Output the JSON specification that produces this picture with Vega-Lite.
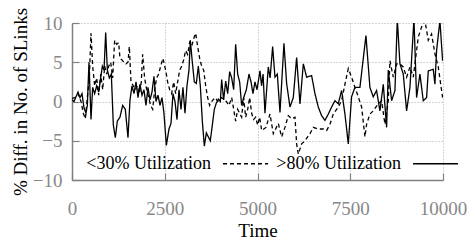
{
 "$schema": "https://vega.github.io/schema/vega-lite/v6.json",
 "width": 371, "height": 157,
 "autosize": "none",
 "padding": {"left": 72, "top": 23, "right": 28, "bottom": 64},
 "background": "white",
 "config": {
  "font": "Liberation Serif",
  "view": {"stroke": null},
  "axis": {"labelFont": "Liberation Serif", "labelFontSize": 19, "labelColor": "#888888", "titleFont": "Liberation Serif", "titleFontSize": 19, "titleFontWeight": "normal", "titleColor": "black", "domainColor": "#808080", "domainWidth": 1.5, "tickColor": "#808080", "tickWidth": 1.2, "tickSize": -7, "gridColor": "#aaaaaa", "gridDash": [1, 2], "gridOpacity": 1, "gridWidth": 1}
 },
 "datasets": {
  "pts": [
   {"t":0,"v":0.4,"s":"<30% Utilization"},{"t":81,"v":0.5,"s":"<30% Utilization"},{"t":162,"v":1.0,"s":"<30% Utilization"},{"t":243,"v":0.0,"s":"<30% Utilization"},{"t":305,"v":-1.5,"s":"<30% Utilization"},{"t":359,"v":-2.2,"s":"<30% Utilization"},{"t":413,"v":0.5,"s":"<30% Utilization"},{"t":467,"v":3.0,"s":"<30% Utilization"},{"t":512,"v":8.7,"s":"<30% Utilization"},{"t":557,"v":4.5,"s":"<30% Utilization"},{"t":611,"v":2.0,"s":"<30% Utilization"},{"t":665,"v":3.0,"s":"<30% Utilization"},{"t":719,"v":0.8,"s":"<30% Utilization"},{"t":773,"v":3.5,"s":"<30% Utilization"},{"t":827,"v":1.5,"s":"<30% Utilization"},{"t":881,"v":4.5,"s":"<30% Utilization"},{"t":935,"v":3.5,"s":"<30% Utilization"},{"t":989,"v":4.5,"s":"<30% Utilization"},{"t":1042,"v":5.0,"s":"<30% Utilization"},{"t":1096,"v":3.0,"s":"<30% Utilization"},{"t":1150,"v":7.8,"s":"<30% Utilization"},{"t":1204,"v":7.3,"s":"<30% Utilization"},{"t":1258,"v":7.5,"s":"<30% Utilization"},{"t":1293,"v":5.5,"s":"<30% Utilization"},{"t":1347,"v":5.3,"s":"<30% Utilization"},{"t":1401,"v":5.0,"s":"<30% Utilization"},{"t":1455,"v":4.8,"s":"<30% Utilization"},{"t":1509,"v":5.0,"s":"<30% Utilization"},{"t":1545,"v":7.0,"s":"<30% Utilization"},{"t":1590,"v":2.5,"s":"<30% Utilization"},{"t":1653,"v":2.0,"s":"<30% Utilization"},{"t":1707,"v":1.5,"s":"<30% Utilization"},{"t":1761,"v":2.0,"s":"<30% Utilization"},{"t":1815,"v":1.0,"s":"<30% Utilization"},{"t":1868,"v":2.5,"s":"<30% Utilization"},{"t":1904,"v":6.0,"s":"<30% Utilization"},{"t":1958,"v":3.0,"s":"<30% Utilization"},{"t":2012,"v":1.5,"s":"<30% Utilization"},{"t":2066,"v":0.5,"s":"<30% Utilization"},{"t":2120,"v":-0.5,"s":"<30% Utilization"},{"t":2174,"v":-1.0,"s":"<30% Utilization"},{"t":2228,"v":1.5,"s":"<30% Utilization"},{"t":2282,"v":3.0,"s":"<30% Utilization"},{"t":2336,"v":3.5,"s":"<30% Utilization"},{"t":2390,"v":4.5,"s":"<30% Utilization"},{"t":2452,"v":5.5,"s":"<30% Utilization"},{"t":2524,"v":4.0,"s":"<30% Utilization"},{"t":2578,"v":2.5,"s":"<30% Utilization"},{"t":2632,"v":1.5,"s":"<30% Utilization"},{"t":2686,"v":1.0,"s":"<30% Utilization"},{"t":2740,"v":2.5,"s":"<30% Utilization"},{"t":2794,"v":1.0,"s":"<30% Utilization"},{"t":2848,"v":2.5,"s":"<30% Utilization"},{"t":2902,"v":4.0,"s":"<30% Utilization"},{"t":2956,"v":4.5,"s":"<30% Utilization"},{"t":3010,"v":5.3,"s":"<30% Utilization"},{"t":3063,"v":6.5,"s":"<30% Utilization"},{"t":3117,"v":6.0,"s":"<30% Utilization"},{"t":3171,"v":7.5,"s":"<30% Utilization"},{"t":3225,"v":7.0,"s":"<30% Utilization"},{"t":3279,"v":8.0,"s":"<30% Utilization"},{"t":3333,"v":8.7,"s":"<30% Utilization"},{"t":3387,"v":7.0,"s":"<30% Utilization"},{"t":3441,"v":5.5,"s":"<30% Utilization"},{"t":3495,"v":4.5,"s":"<30% Utilization"},{"t":3549,"v":4.0,"s":"<30% Utilization"},{"t":3603,"v":2.0,"s":"<30% Utilization"},{"t":3657,"v":0.5,"s":"<30% Utilization"},{"t":3710,"v":-0.5,"s":"<30% Utilization"},{"t":3764,"v":0.0,"s":"<30% Utilization"},{"t":3818,"v":0.3,"s":"<30% Utilization"},{"t":3872,"v":0.5,"s":"<30% Utilization"},{"t":3926,"v":0.0,"s":"<30% Utilization"},{"t":3980,"v":0.2,"s":"<30% Utilization"},{"t":4034,"v":0.5,"s":"<30% Utilization"},{"t":4088,"v":0.3,"s":"<30% Utilization"},{"t":4160,"v":0.0,"s":"<30% Utilization"},{"t":4232,"v":-0.5,"s":"<30% Utilization"},{"t":4304,"v":0.5,"s":"<30% Utilization"},{"t":4358,"v":-1.0,"s":"<30% Utilization"},{"t":4411,"v":-2.5,"s":"<30% Utilization"},{"t":4465,"v":-1.0,"s":"<30% Utilization"},{"t":4519,"v":-1.5,"s":"<30% Utilization"},{"t":4573,"v":-2.0,"s":"<30% Utilization"},{"t":4627,"v":0.5,"s":"<30% Utilization"},{"t":4681,"v":-2.0,"s":"<30% Utilization"},{"t":4735,"v":-1.0,"s":"<30% Utilization"},{"t":4789,"v":0.5,"s":"<30% Utilization"},{"t":4842,"v":-1.5,"s":"<30% Utilization"},{"t":4896,"v":-2.3,"s":"<30% Utilization"},{"t":4950,"v":-2.0,"s":"<30% Utilization"},{"t":5004,"v":-3.0,"s":"<30% Utilization"},{"t":5058,"v":-2.0,"s":"<30% Utilization"},{"t":5112,"v":-3.7,"s":"<30% Utilization"},{"t":5228,"v":-3.3,"s":"<30% Utilization"},{"t":5336,"v":-1.6,"s":"<30% Utilization"},{"t":5426,"v":-4.1,"s":"<30% Utilization"},{"t":5561,"v":-2.8,"s":"<30% Utilization"},{"t":5650,"v":-4.5,"s":"<30% Utilization"},{"t":5740,"v":-3.3,"s":"<30% Utilization"},{"t":5830,"v":-1.8,"s":"<30% Utilization"},{"t":5920,"v":-2.2,"s":"<30% Utilization"},{"t":6010,"v":-2.0,"s":"<30% Utilization"},{"t":6055,"v":-5.4,"s":"<30% Utilization"},{"t":6100,"v":-6.7,"s":"<30% Utilization"},{"t":6190,"v":-5.4,"s":"<30% Utilization"},{"t":6279,"v":-5.0,"s":"<30% Utilization"},{"t":6414,"v":-4.1,"s":"<30% Utilization"},{"t":6504,"v":-3.3,"s":"<30% Utilization"},{"t":6639,"v":-3.5,"s":"<30% Utilization"},{"t":6773,"v":-3.5,"s":"<30% Utilization"},{"t":6863,"v":-3.7,"s":"<30% Utilization"},{"t":6953,"v":-2.9,"s":"<30% Utilization"},{"t":7042,"v":-1.6,"s":"<30% Utilization"},{"t":7177,"v":-0.7,"s":"<30% Utilization"},{"t":7267,"v":0.1,"s":"<30% Utilization"},{"t":7357,"v":2.2,"s":"<30% Utilization"},{"t":7447,"v":4.2,"s":"<30% Utilization"},{"t":7536,"v":3.1,"s":"<30% Utilization"},{"t":7626,"v":1.8,"s":"<30% Utilization"},{"t":7716,"v":0.6,"s":"<30% Utilization"},{"t":7806,"v":-0.7,"s":"<30% Utilization"},{"t":7896,"v":-4.5,"s":"<30% Utilization"},{"t":7941,"v":-2.9,"s":"<30% Utilization"},{"t":8030,"v":-1.6,"s":"<30% Utilization"},{"t":8120,"v":-1.2,"s":"<30% Utilization"},{"t":8255,"v":-0.3,"s":"<30% Utilization"},{"t":8345,"v":0.1,"s":"<30% Utilization"},{"t":8435,"v":-2.9,"s":"<30% Utilization"},{"t":8525,"v":0.1,"s":"<30% Utilization"},{"t":8570,"v":5.2,"s":"<30% Utilization"},{"t":8660,"v":3.1,"s":"<30% Utilization"},{"t":8750,"v":4.8,"s":"<30% Utilization"},{"t":8839,"v":4.8,"s":"<30% Utilization"},{"t":8929,"v":4.4,"s":"<30% Utilization"},{"t":9019,"v":3.1,"s":"<30% Utilization"},{"t":9109,"v":4.4,"s":"<30% Utilization"},{"t":9199,"v":3.1,"s":"<30% Utilization"},{"t":9333,"v":8.2,"s":"<30% Utilization"},{"t":9423,"v":9.5,"s":"<30% Utilization"},{"t":9513,"v":10.3,"s":"<30% Utilization"},{"t":9603,"v":7.8,"s":"<30% Utilization"},{"t":9692,"v":8.6,"s":"<30% Utilization"},{"t":9782,"v":6.1,"s":"<30% Utilization"},{"t":9872,"v":4.4,"s":"<30% Utilization"},{"t":9989,"v":0.5,"s":"<30% Utilization"},
   {"t":0,"v":0.2,"s":">80% Utilization"},{"t":54,"v":0.0,"s":">80% Utilization"},{"t":108,"v":0.6,"s":">80% Utilization"},{"t":162,"v":1.2,"s":">80% Utilization"},{"t":216,"v":0.5,"s":">80% Utilization"},{"t":270,"v":1.0,"s":">80% Utilization"},{"t":323,"v":-0.8,"s":">80% Utilization"},{"t":377,"v":-1.5,"s":">80% Utilization"},{"t":413,"v":-0.5,"s":">80% Utilization"},{"t":458,"v":5.0,"s":">80% Utilization"},{"t":512,"v":-2.3,"s":">80% Utilization"},{"t":557,"v":1.8,"s":">80% Utilization"},{"t":611,"v":1.0,"s":">80% Utilization"},{"t":665,"v":2.0,"s":">80% Utilization"},{"t":719,"v":1.2,"s":">80% Utilization"},{"t":773,"v":3.0,"s":">80% Utilization"},{"t":818,"v":4.5,"s":">80% Utilization"},{"t":863,"v":4.0,"s":">80% Utilization"},{"t":908,"v":8.8,"s":">80% Utilization"},{"t":953,"v":4.0,"s":">80% Utilization"},{"t":1006,"v":3.0,"s":">80% Utilization"},{"t":1060,"v":3.5,"s":">80% Utilization"},{"t":1114,"v":-3.0,"s":">80% Utilization"},{"t":1168,"v":-4.6,"s":">80% Utilization"},{"t":1222,"v":-2.5,"s":">80% Utilization"},{"t":1293,"v":-2.0,"s":">80% Utilization"},{"t":1365,"v":-0.5,"s":">80% Utilization"},{"t":1437,"v":-1.0,"s":">80% Utilization"},{"t":1509,"v":-4.6,"s":">80% Utilization"},{"t":1563,"v":0.2,"s":">80% Utilization"},{"t":1617,"v":2.0,"s":">80% Utilization"},{"t":1671,"v":1.0,"s":">80% Utilization"},{"t":1725,"v":2.5,"s":">80% Utilization"},{"t":1779,"v":0.5,"s":">80% Utilization"},{"t":1832,"v":2.2,"s":">80% Utilization"},{"t":1886,"v":0.8,"s":">80% Utilization"},{"t":1940,"v":1.5,"s":">80% Utilization"},{"t":1994,"v":-0.5,"s":">80% Utilization"},{"t":2048,"v":1.8,"s":">80% Utilization"},{"t":2102,"v":0.2,"s":">80% Utilization"},{"t":2156,"v":1.2,"s":">80% Utilization"},{"t":2210,"v":3.2,"s":">80% Utilization"},{"t":2264,"v":0.0,"s":">80% Utilization"},{"t":2318,"v":0.8,"s":">80% Utilization"},{"t":2372,"v":-0.5,"s":">80% Utilization"},{"t":2425,"v":0.5,"s":">80% Utilization"},{"t":2479,"v":-1.5,"s":">80% Utilization"},{"t":2543,"v":-5.6,"s":">80% Utilization"},{"t":2614,"v":-3.5,"s":">80% Utilization"},{"t":2668,"v":-2.8,"s":">80% Utilization"},{"t":2722,"v":1.0,"s":">80% Utilization"},{"t":2776,"v":0.0,"s":">80% Utilization"},{"t":2830,"v":-2.3,"s":">80% Utilization"},{"t":2884,"v":1.5,"s":">80% Utilization"},{"t":2938,"v":-1.0,"s":">80% Utilization"},{"t":2991,"v":1.8,"s":">80% Utilization"},{"t":3045,"v":-1.5,"s":">80% Utilization"},{"t":3099,"v":2.0,"s":">80% Utilization"},{"t":3153,"v":4.0,"s":">80% Utilization"},{"t":3189,"v":7.8,"s":">80% Utilization"},{"t":3243,"v":5.0,"s":">80% Utilization"},{"t":3297,"v":2.5,"s":">80% Utilization"},{"t":3351,"v":2.3,"s":">80% Utilization"},{"t":3405,"v":4.5,"s":">80% Utilization"},{"t":3459,"v":2.0,"s":">80% Utilization"},{"t":3513,"v":-2.5,"s":">80% Utilization"},{"t":3567,"v":-5.7,"s":">80% Utilization"},{"t":3621,"v":-4.0,"s":">80% Utilization"},{"t":3674,"v":-4.5,"s":">80% Utilization"},{"t":3728,"v":-5.0,"s":">80% Utilization"},{"t":3782,"v":-3.0,"s":">80% Utilization"},{"t":3836,"v":-1.0,"s":">80% Utilization"},{"t":3890,"v":-0.2,"s":">80% Utilization"},{"t":3944,"v":0.3,"s":">80% Utilization"},{"t":3998,"v":0.0,"s":">80% Utilization"},{"t":4034,"v":2.8,"s":">80% Utilization"},{"t":4088,"v":0.2,"s":">80% Utilization"},{"t":4142,"v":2.6,"s":">80% Utilization"},{"t":4196,"v":1.0,"s":">80% Utilization"},{"t":4250,"v":3.8,"s":">80% Utilization"},{"t":4304,"v":3.0,"s":">80% Utilization"},{"t":4358,"v":1.5,"s":">80% Utilization"},{"t":4411,"v":7.3,"s":">80% Utilization"},{"t":4465,"v":3.5,"s":">80% Utilization"},{"t":4519,"v":2.5,"s":">80% Utilization"},{"t":4573,"v":-0.5,"s":">80% Utilization"},{"t":4627,"v":0.5,"s":">80% Utilization"},{"t":4699,"v":1.5,"s":">80% Utilization"},{"t":4771,"v":3.5,"s":">80% Utilization"},{"t":4825,"v":2.5,"s":">80% Utilization"},{"t":4878,"v":1.0,"s":">80% Utilization"},{"t":4932,"v":2.5,"s":">80% Utilization"},{"t":4986,"v":1.5,"s":">80% Utilization"},{"t":5067,"v":3.9,"s":">80% Utilization"},{"t":5110,"v":2.0,"s":">80% Utilization"},{"t":5150,"v":3.5,"s":">80% Utilization"},{"t":5201,"v":-1.5,"s":">80% Utilization"},{"t":5291,"v":4.4,"s":">80% Utilization"},{"t":5340,"v":3.0,"s":">80% Utilization"},{"t":5408,"v":7.0,"s":">80% Utilization"},{"t":5471,"v":3.1,"s":">80% Utilization"},{"t":5534,"v":3.5,"s":">80% Utilization"},{"t":5606,"v":-1.4,"s":">80% Utilization"},{"t":5713,"v":7.4,"s":">80% Utilization"},{"t":5785,"v":2.3,"s":">80% Utilization"},{"t":5875,"v":-0.7,"s":">80% Utilization"},{"t":5965,"v":0.5,"s":">80% Utilization"},{"t":6055,"v":5.6,"s":">80% Utilization"},{"t":6145,"v":-0.3,"s":">80% Utilization"},{"t":6235,"v":4.8,"s":">80% Utilization"},{"t":6324,"v":3.1,"s":">80% Utilization"},{"t":6459,"v":3.3,"s":">80% Utilization"},{"t":6549,"v":1.0,"s":">80% Utilization"},{"t":6638,"v":-0.7,"s":">80% Utilization"},{"t":6728,"v":-1.8,"s":">80% Utilization"},{"t":6818,"v":-2.4,"s":">80% Utilization"},{"t":6908,"v":-1.6,"s":">80% Utilization"},{"t":6998,"v":-0.7,"s":">80% Utilization"},{"t":7087,"v":0.1,"s":">80% Utilization"},{"t":7177,"v":-0.3,"s":">80% Utilization"},{"t":7267,"v":1.4,"s":">80% Utilization"},{"t":7357,"v":-1.6,"s":">80% Utilization"},{"t":7447,"v":-5.4,"s":">80% Utilization"},{"t":7536,"v":0.6,"s":">80% Utilization"},{"t":7626,"v":1.8,"s":">80% Utilization"},{"t":7761,"v":1.8,"s":">80% Utilization"},{"t":7923,"v":8.4,"s":">80% Utilization"},{"t":8030,"v":1.8,"s":">80% Utilization"},{"t":8120,"v":0.6,"s":">80% Utilization"},{"t":8210,"v":1.4,"s":">80% Utilization"},{"t":8300,"v":-1.2,"s":">80% Utilization"},{"t":8390,"v":2.2,"s":">80% Utilization"},{"t":8480,"v":-3.3,"s":">80% Utilization"},{"t":8525,"v":4.0,"s":">80% Utilization"},{"t":8615,"v":0.1,"s":">80% Utilization"},{"t":8705,"v":1.4,"s":">80% Utilization"},{"t":8768,"v":10.5,"s":">80% Utilization"},{"t":8839,"v":4.8,"s":">80% Utilization"},{"t":8929,"v":3.5,"s":">80% Utilization"},{"t":9019,"v":-1.2,"s":">80% Utilization"},{"t":9109,"v":1.8,"s":">80% Utilization"},{"t":9217,"v":10.5,"s":">80% Utilization"},{"t":9288,"v":0.5,"s":">80% Utilization"},{"t":9378,"v":3.5,"s":">80% Utilization"},{"t":9468,"v":0.1,"s":">80% Utilization"},{"t":9558,"v":0.5,"s":">80% Utilization"},{"t":9603,"v":3.9,"s":">80% Utilization"},{"t":9737,"v":4.1,"s":">80% Utilization"},{"t":9782,"v":2.2,"s":">80% Utilization"},{"t":9827,"v":6.5,"s":">80% Utilization"},{"t":9917,"v":10.3,"s":">80% Utilization"},{"t":9989,"v":5.2,"s":">80% Utilization"}
  ]
 },
 "data": {"name": "pts"},
 "mark": {"type": "line", "clip": true, "strokeWidth": 1.3, "color": "black"},
 "encoding": {
  "x": {"field": "t", "type": "quantitative", "scale": {"domain": [0, 10000], "nice": false}, "axis": {"values": [0, 2500, 5000, 7500, 10000], "format": "d", "title": "Time", "labelFont": "Liberation Serif", "titleFont": "Liberation Serif", "labelPadding": 26, "titlePadding": 3, "labelFlush": false}},
  "y": {"field": "v", "type": "quantitative", "scale": {"domain": [-10, 10], "nice": false}, "axis": {"values": [-10, -5, 0, 5, 10], "title": "% Diff. in No. of SLinks", "labelFont": "Liberation Serif", "titleFont": "Liberation Serif", "labelPadding": 17, "titlePadding": 2}},
  "strokeDash": {"field": "s", "type": "nominal", "scale": {"domain": ["<30% Utilization", ">80% Utilization"], "range": [[4, 3], [1, 0]]},
   "legend": {"title": null, "orient": "none", "legendX": 150, "legendY": 117, "direction": "horizontal", "symbolType": "stroke", "symbolSize": 2025, "symbolStrokeWidth": 1.3, "symbolStrokeColor": "black", "labelFont": "Liberation Serif", "labelFontSize": 18, "labelColor": "black", "labelAlign": "right", "labelOffset": -58, "columnPadding": 5, "labelLimit": 300}}
 }
}
